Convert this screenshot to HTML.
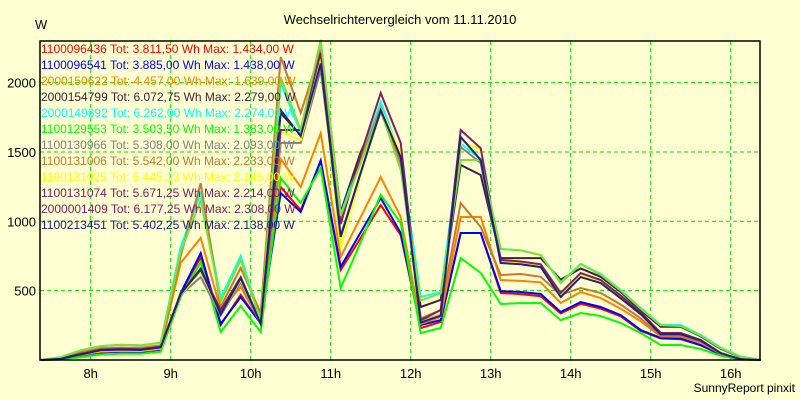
<!DOCTYPE html>
<html><head><meta charset="utf-8"><style>
body{margin:0;background:#ffffd2;}
svg{display:block;font-family:"Liberation Sans",sans-serif;}
</style></head><body>
<svg id="chart" width="800" height="400">
<rect x="0" y="0" width="800" height="400" fill="#ffffd2"/>
<text x="400" y="24" text-anchor="middle" font-size="13">Wechselrichtervergleich vom 11.11.2010</text>
<text x="35" y="29" font-size="13">W</text>
<text x="795" y="392" text-anchor="end" font-size="12">SunnyReport pinxit</text>
<g id="grid"></g><g id="lines"></g><g id="legend"></g>
<rect x="40" y="41" width="720" height="319" fill="none" stroke="#000" stroke-width="1.5"/>
</svg>
<script>
const startHour = 7.375, stepHour = 0.25;
const yTicks = [500,1000,1500,2000];
const xTicks = [8,9,10,11,12,13,14,15,16];
const names = ["1100096436","1100096541","2000150622","2000154799","2000149892","1100129553","1100130966","1100131006","1100131025","1100131074","2000001409","1100213451"];
const totals = ["3.811,50","3.885,00","4.457,00","6.072,75","6.262,00","3.503,50","5.308,00","5.542,00","5.445,13","5.671,25","6.177,25","5.402,25"];
const maxima = ["1.434,00","1.438,00","1.639,00","2.279,00","2.274,00","1.383,00","2.093,00","2.233,00","2.145,00","2.214,00","2.308,00","2.138,00"];
const legendColors = ["#ff0000","#0000ff","#ff8000","#402038","#00ffff","#00ff00","#808080","#c87830","#ffff00","#802060","#802060","#202080"];
const lineColors = ["#ff0000","#0000ff","#ff8000","#402038","#00ffff","#00ff00","#808080","#c87830","#ffff00","#802060","#80e030","#202080"];
const s0 = [0,5,30,55,60,58,75,483,740,252,470,260,1247,1080,1434,649,880,1117,900,230,275,916,916,483,475,460,335,405,370,315,210,155,150,105,40,5,0];
const s1 = [0,5,30,55,60,58,75,483,771,260,454,265,1204,1067,1438,671,920,1168,916,252,288,916,916,497,490,476,346,418,382,324,216,159,155,108,40,5,0];
const s2 = [0,8,35,60,65,63,80,700,880,360,526,270,1449,1247,1636,743,1030,1319,1031,260,310,1031,1031,577,570,560,411,490,447,370,280,170,168,125,45,5,0];
const s3 = [0,10,45,75,80,78,95,480,640,330,590,265,1780,1620,2279,1067,1500,1810,1460,382,433,1406,1334,735,735,735,580,660,600,490,360,240,240,170,80,20,0];
const s4 = [0,20,70,100,110,105,125,815,1204,447,750,290,1997,1640,2274,1050,1450,1860,1470,454,490,1560,1450,800,790,757,562,692,620,505,375,255,252,180,90,25,0];
const s5 = [0,3,20,40,45,45,60,454,706,202,389,202,1312,1132,1383,519,850,1190,988,195,231,735,627,404,410,411,288,339,317,267,195,108,108,79,30,3,0];
const s6 = [0,8,40,65,70,70,85,470,598,320,560,255,1565,1565,2093,900,1350,1790,1420,280,330,1536,1420,710,700,680,470,610,560,450,335,190,190,140,50,5,0];
const s7 = [0,12,55,85,90,88,105,750,1274,382,663,339,2185,1781,2233,1000,1450,1820,1400,300,360,1132,959,613,620,600,470,519,483,400,300,175,175,130,45,5,0];
const s8 = [0,8,40,65,70,68,85,470,640,330,580,260,1644,1586,2145,815,1330,1810,1492,270,330,1580,1514,710,700,680,470,610,565,455,335,190,188,140,50,5,0];
const s9 = [0,10,45,75,80,78,95,480,649,360,598,265,1658,1658,2214,980,1480,1925,1565,288,360,1658,1528,721,710,690,483,627,577,465,345,195,195,144,50,5,0];
const s10 = [0,20,70,100,110,105,125,780,1150,420,720,280,2040,1658,2308,1040,1420,1802,1370,430,480,1442,1442,800,790,757,555,690,615,500,370,250,245,175,85,22,0];
const s11 = [0,8,40,70,75,72,90,475,660,330,590,260,1802,1615,2138,887,1350,1802,1463,270,320,1608,1442,699,690,670,454,598,555,445,330,185,185,140,50,5,0];
const series = [s0,s1,s2,s3,s4,s5,s6,s7,s8,s9,s10,s11];

const NS = "http://www.w3.org/2000/svg";
const xScale = h => 90.7 + (h - 8) * 80;
const yScale = v => 360 - v * 0.1387;
const grid = document.getElementById('grid');
const lines = document.getElementById('lines');
const legend = document.getElementById('legend');

yTicks.forEach(v => {
  const l = document.createElementNS(NS,'line');
  
  
  l.setAttribute('x1',40); l.setAttribute('x2',760);
  l.setAttribute('y1',yScale(v)); l.setAttribute('y2',yScale(v));
  l.setAttribute('stroke','#00e000'); l.setAttribute('stroke-dasharray','4,3');
  grid.appendChild(l);
  const t = document.createElementNS(NS,'text');
  
  
  t.setAttribute('x',36); t.setAttribute('y',yScale(v)+5);
  t.setAttribute('text-anchor','end'); t.setAttribute('font-size','13');
  t.textContent = v;
  grid.appendChild(t);
});
xTicks.forEach(h => {
  const l = document.createElementNS(NS,'line');
  
  
  l.setAttribute('x1',xScale(h)); l.setAttribute('x2',xScale(h));
  l.setAttribute('y1',41); l.setAttribute('y2',360);
  l.setAttribute('stroke','#00e000'); l.setAttribute('stroke-dasharray','4,3');
  grid.appendChild(l);
  const t = document.createElementNS(NS,'text');
  
  
  t.setAttribute('x',xScale(h)); t.setAttribute('y',378);
  t.setAttribute('text-anchor','middle'); t.setAttribute('font-size','13');
  t.textContent = h + 'h';
  grid.appendChild(t);
});
series.forEach((s,i) => {
  const p = document.createElementNS(NS,'polyline');
  
  
  p.setAttribute('points', s.map((v,k) => xScale(startHour + k*stepHour).toFixed(1) + ',' + yScale(v).toFixed(1)).join(' '));
  p.setAttribute('fill','none'); p.setAttribute('stroke',lineColors[i]); p.setAttribute('stroke-width','2');
  lines.appendChild(p);
});
names.forEach((n,i) => {
  const t = document.createElementNS(NS,'text');
  
  
  t.setAttribute('x',41); t.setAttribute('y',53 + i*16);
  t.setAttribute('font-size','12'); t.setAttribute('fill',legendColors[i]);
  t.textContent = n + ' Tot: ' + totals[i] + ' Wh Max: ' + maxima[i] + ' W';
  legend.appendChild(t);
});
</script>
</body></html>
